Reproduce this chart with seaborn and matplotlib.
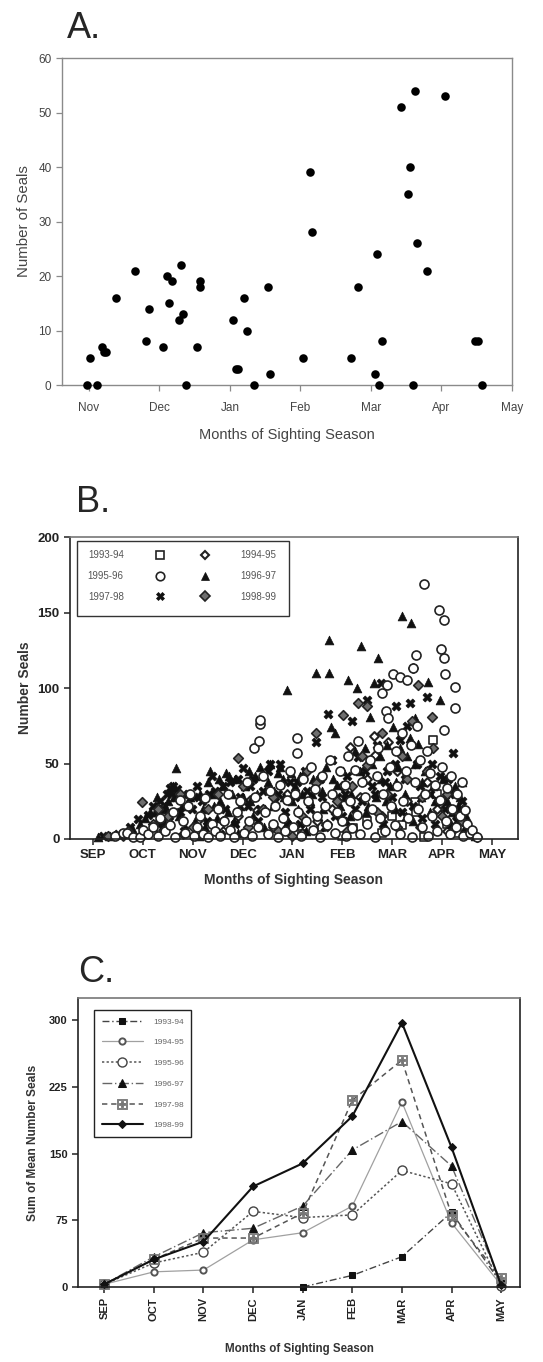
import numpy as np
import pandas as pd
import matplotlib
matplotlib.use("Agg")
import matplotlib.pyplot as plt
import seaborn as sns
from matplotlib.patches import Rectangle
from matplotlib.lines import Line2D

sns.set_style("ticks")
plt.rcParams['font.family'] = ['Liberation Sans', 'DejaVu Sans']

# ---------------- Panel A: single season, months after 1 Nov
a_months = ["Nov", "Dec", "Jan", "Feb", "Mar", "Apr", "May"]
a_x = [-0.02, 0.02, 0.12, 0.18, 0.22, 0.25, 0.38, 0.65, 0.81, 0.85,
       1.05, 1.11, 1.14, 1.18, 1.28, 1.31, 1.34, 1.38, 1.54, 1.57,
       1.57, 2.04, 2.08, 2.11, 2.20, 2.24, 2.34, 2.54, 2.57, 3.03,
       3.13, 3.16, 3.72, 3.82, 4.06, 4.09, 4.12, 4.16, 4.43, 4.52,
       4.56, 4.59, 4.62, 4.65, 4.79, 5.05, 5.47, 5.52, 5.58]
a_y = [0, 5, 0, 7, 6, 6, 16, 21, 8, 14,
       7, 20, 15, 19, 12, 22, 13, 0, 7, 19,
       18, 12, 3, 3, 16, 10, 0, 18, 2, 5,
       39, 28, 5, 18, 2, 24, 0, 8, 51, 35,
       40, 0, 54, 26, 21, 53, 8, 8, 0]

# ---------------- Panel B: all sightings, months after 1 Sep (month, seals)
b_months = ["SEP", "OCT", "NOV", "DEC", "JAN", "FEB", "MAR", "APR", "MAY"]
b_9394 = [(4.2, 3), (4.6, 8), (5.0, 2), (5.22, 7), (5.5, 12), (5.8, 4), (6.0, 15),
          (6.2, 9), (6.45, 24.7), (6.48, 18), (6.64, 1.5), (6.81, 65.6), (6.9, 30),
          (7.1, 10), (7.3, 4)]
b_9495 = [(0.6, 2), (1.0, 4), (1.4, 6), (1.8, 3), (2.2, 10), (2.6, 5), (2.9, 15),
          (3.14, 26), (3.28, 19), (3.6, 8), (3.9, 30), (4.2, 4), (4.5, 12), (4.8, 20),
          (5.0, 35), (5.16, 61), (5.35, 28), (5.5, 40), (5.63, 68), (5.65, 55.6),
          (5.8, 15), (5.92, 64), (6.1, 45), (6.3, 25), (6.42, 113), (6.55, 8),
          (6.7, 38), (6.9, 20), (7.1, 5), (7.3, 14)]
b_9596 = [(0.45, 2), (0.6, 4), (0.68, 3.7), (0.8, 1), (0.94, 1.5), (1.0, 6),
          (1.1, 3), (1.2, 8), (1.3, 2), (1.35, 14), (1.45, 5), (1.54, 9), (1.6, 18),
          (1.65, 1), (1.74, 26), (1.8, 12), (1.85, 4), (1.91, 22), (1.95, 30),
          (2.02, 2), (2.08, 8), (2.14, 15), (2.2, 3), (2.25, 27), (2.3, 1), (2.38, 10),
          (2.45, 5), (2.5, 20), (2.55, 2), (2.62, 12), (2.7, 30), (2.75, 6), (2.82, 1),
          (2.88, 18), (2.95, 25),
          (3.02, 4), (3.08, 38), (3.12, 12), (3.18, 2), (3.23, 60), (3.25, 28), (3.3, 8),
          (3.33, 65), (3.35, 76), (3.35, 79), (3.4, 42), (3.45, 18), (3.5, 3), (3.55, 32),
          (3.6, 10), (3.65, 22), (3.7, 1), (3.75, 36), (3.8, 14), (3.85, 5), (3.9, 26),
          (3.95, 45),
          (4.02, 8), (4.05, 30), (4.1, 57), (4.1, 67), (4.12, 18), (4.18, 2), (4.22, 40),
          (4.28, 12), (4.32, 25), (4.38, 48), (4.42, 6), (4.45, 33), (4.5, 15), (4.55, 1),
          (4.6, 42), (4.65, 22), (4.7, 9), (4.75, 52), (4.8, 30), (4.85, 4), (4.9, 18),
          (4.95, 45),
          (5.0, 12), (5.05, 36), (5.08, 2), (5.12, 55), (5.15, 25), (5.2, 7), (5.25, 46),
          (5.3, 16), (5.32, 65), (5.35, 3), (5.4, 38), (5.45, 28), (5.5, 10), (5.55, 52),
          (5.6, 20), (5.65, 1), (5.7, 42), (5.72, 60), (5.75, 14), (5.8, 97), (5.82, 30),
          (5.85, 5), (5.88, 85), (5.9, 102), (5.92, 80), (5.95, 48), (5.98, 22),
          (6.02, 109), (6.05, 9), (6.08, 58), (6.1, 35), (6.15, 107), (6.15, 3), (6.2, 70),
          (6.22, 25), (6.28, 45), (6.3, 105), (6.32, 14), (6.38, 62), (6.4, 1), (6.42, 113),
          (6.45, 38), (6.47, 122), (6.49, 75), (6.52, 20), (6.55, 52), (6.6, 8), (6.64, 169),
          (6.65, 30), (6.7, 58), (6.72, 2), (6.75, 44), (6.8, 15), (6.85, 36), (6.9, 5),
          (6.94, 152), (6.95, 26), (6.97, 126), (7.0, 48),
          (7.03, 145), (7.03, 120), (7.04, 72), (7.05, 109), (7.08, 12), (7.1, 34),
          (7.15, 3), (7.18, 42), (7.2, 20), (7.25, 101), (7.25, 87), (7.28, 8), (7.3, 30),
          (7.35, 15), (7.4, 38), (7.42, 2), (7.46, 19), (7.5, 10), (7.55, 4), (7.6, 6),
          (7.7, 1)]
b_9697 = [(0.1, 1), (0.35, 2), (0.6, 4), (0.8, 6), (0.95, 10), (1.05, 14), (1.15, 18),
          (1.2, 8), (1.28, 28), (1.35, 20), (1.42, 12), (1.5, 25), (1.55, 32), (1.6, 35),
          (1.66, 47), (1.7, 30), (1.78, 22), (1.85, 8), (1.95, 28),
          (1.25, 18), (1.45, 22), (1.62, 28), (1.72, 15),
          (2.05, 12), (2.12, 2), (2.2, 20), (2.3, 38), (2.35, 45), (2.4, 30), (2.48, 14),
          (2.55, 25), (2.6, 35), (2.66, 44), (2.7, 18), (2.78, 30), (2.85, 40), (2.9, 4),
          (2.95, 22), (2.15, 30), (2.25, 8), (2.42, 22), (2.52, 40), (2.72, 42), (2.82, 12),
          (3.05, 35), (3.12, 45), (3.2, 15), (3.28, 30), (3.35, 48), (3.42, 8), (3.5, 38),
          (3.54, 50), (3.6, 22), (3.7, 44), (3.75, 48), (3.82, 28), (3.89, 99), (3.92, 12),
          (3.98, 44), (3.0, 28), (3.15, 25), (3.25, 42), (3.45, 20), (3.62, 32), (3.8, 40),
          (4.05, 35), (4.12, 20), (4.2, 30), (4.28, 5), (4.35, 25), (4.42, 40), (4.48, 110),
          (4.52, 15), (4.6, 32), (4.68, 48), (4.73, 110), (4.74, 132), (4.78, 74),
          (4.85, 70), (4.9, 36), (4.95, 22), (4.0, 25), (4.15, 42), (4.25, 12), (4.4, 30),
          (4.62, 20), (4.82, 40),
          (5.02, 45), (5.08, 12), (5.12, 105), (5.18, 30), (5.25, 58), (5.3, 100),
          (5.38, 128), (5.42, 40), (5.48, 18), (5.55, 81), (5.6, 50), (5.63, 103),
          (5.68, 28), (5.72, 120), (5.78, 40), (5.85, 8), (5.9, 62), (5.95, 35),
          (5.05, 28), (5.15, 15), (5.35, 45), (5.45, 60), (5.52, 22), (5.75, 55), (5.88, 25),
          (6.01, 74), (6.05, 20), (6.12, 48), (6.19, 148), (6.25, 30), (6.3, 55),
          (6.36, 67), (6.37, 143), (6.42, 12), (6.46, 80), (6.52, 63), (6.58, 28),
          (6.65, 45), (6.71, 104), (6.75, 18), (6.82, 35), (6.9, 6), (6.95, 92),
          (6.08, 38), (6.15, 60), (6.28, 15), (6.45, 50), (6.6, 38), (6.85, 25),
          (7.02, 40), (7.1, 25), (7.18, 10), (7.25, 35), (7.32, 22), (7.4, 38),
          (7.48, 15), (7.55, 5), (7.65, 2), (7.05, 30), (7.2, 18), (7.35, 28), (7.45, 8)]
b_9798 = [(0.2, 2), (0.5, 3), (0.75, 8), (0.9, 13), (1.0, 5), (1.1, 16), (1.2, 22),
          (1.3, 10), (1.4, 20), (1.48, 30), (1.55, 34), (1.61, 35), (1.68, 33), (1.75, 18),
          (1.82, 5), (1.9, 30), (1.98, 20), (1.35, 25), (1.52, 15), (1.65, 28),
          (2.08, 35), (2.18, 25), (2.28, 12), (2.38, 42), (2.45, 32), (2.55, 3), (2.65, 20),
          (2.75, 38), (2.85, 10), (2.95, 28), (2.02, 28), (2.32, 30), (2.6, 35), (2.9, 40),
          (3.0, 47), (3.1, 22), (3.2, 40), (3.3, 12), (3.4, 32), (3.55, 50), (3.65, 25),
          (3.75, 50), (3.85, 18), (3.95, 38), (3.15, 35), (3.35, 20), (3.5, 45), (3.7, 30),
          (3.9, 10),
          (4.05, 28), (4.15, 10), (4.25, 45), (4.35, 20), (4.48, 64.5), (4.55, 40),
          (4.65, 8), (4.72, 82.5), (4.8, 52), (4.9, 28), (4.1, 38), (4.3, 32), (4.6, 28),
          (4.85, 15),
          (5.0, 15), (5.1, 42), (5.2, 78), (5.32, 54.5), (5.4, 25), (5.5, 92), (5.6, 35),
          (5.7, 62), (5.77, 103), (5.82, 10), (5.9, 45), (5.05, 30), (5.25, 20), (5.45, 45),
          (5.65, 30), (5.85, 38),
          (6.0, 28), (6.08, 88), (6.15, 65.6), (6.25, 40), (6.36, 90), (6.42, 22),
          (6.5, 50), (6.6, 14), (6.69, 94), (6.75, 30), (6.85, 10), (6.95, 42),
          (6.05, 50), (6.2, 18), (6.3, 75), (6.55, 35), (6.8, 50),
          (7.05, 20), (7.15, 30), (7.22, 57), (7.3, 12), (7.4, 25), (7.5, 8), (7.6, 3),
          (7.0, 25), (7.12, 40), (7.35, 20)]
b_9899 = [(0.3, 2), (0.7, 5), (0.98, 24.7), (1.2, 10), (1.5, 15), (1.75, 30), (2.0, 8),
          (2.3, 20), (2.6, 12), (2.9, 53.4), (3.1, 8), (3.4, 20), (3.7, 5), (4.0, 2),
          (4.2, 15), (4.48, 70), (4.48, 37), (4.7, 10), (4.9, 25), (5.02, 82), (5.1, 5),
          (5.2, 35), (5.32, 90), (5.5, 88), (5.5, 49), (5.7, 18), (5.9, 30), (6.1, 8),
          (6.3, 40), (6.52, 102), (6.6, 28), (6.8, 81), (6.82, 60), (7.0, 15), (7.2, 5),
          (7.4, 12), (7.7, 1), (1.3, 20), (2.5, 30), (3.0, 35), (3.6, 28), (4.3, 45),
          (5.4, 55), (5.8, 70), (6.2, 55), (6.4, 78), (6.7, 45), (7.1, 30)]

# ---------------- Panel C: sum of monthly means per season
c_months = ["SEP", "OCT", "NOV", "DEC", "JAN", "FEB", "MAR", "APR", "MAY"]
c_9394 = [np.nan, np.nan, np.nan, np.nan, 0, 13, 34, 84, 4]
c_9495 = [3, 17, 19, 53, 61, 91, 208, 72, 2]
c_9596 = [3, 27, 39, 85, 78, 81, 131, 116, 1]
c_9697 = [3, 34, 61, 66, 91, 154, 186, 136, 5]
c_9798 = [3, 31, 55, 55, 83, 210, 255, 81, 10]
c_9899 = [3, 31, 51, 113, 139, 192, 297, 157, 2]

seasons = ["1993-94", "1994-95", "1995-96", "1996-97", "1997-98", "1998-99"]

fig = plt.figure(figsize=(5.43, 13.62), dpi=100)

# ================= A =================
ax = fig.add_axes([0.1142, 0.7173, 0.8287, 0.2401])
sns.scatterplot(x=a_x, y=a_y, ax=ax, color="black", s=38, edgecolor="black",
                linewidth=0, clip_on=False, zorder=3)
ax.set_xlim(-0.38, 6.0)
ax.set_ylim(0, 60)
ax.set_xticks(range(len(a_months)))
ax.set_xticklabels(a_months)
ax.set_yticks(range(0, 61, 10))
for sp in ax.spines.values():
    sp.set_visible(True)
    sp.set_color("#8a8a8a")
    sp.set_linewidth(1.0)
ax.tick_params(colors="#8a8a8a", labelcolor="#444444", length=4, width=0.9,
               labelsize=8.5)
ax.tick_params(axis="x", pad=8)
ax.set_xlabel("Months of Sighting Season", fontsize=10.5, color="#444444", labelpad=10)
ax.set_ylabel("Number of Seals", fontsize=10.8, color="#444444", labelpad=5)
fig.text(0.123, 0.972, "A.", fontsize=26, va="baseline", ha="left")

# ================= B =================
rows = []
b_data = {"1993-94": b_9394, "1994-95": b_9495, "1995-96": b_9596,
          "1996-97": b_9697, "1997-98": b_9798, "1998-99": b_9899}
for season, pts in b_data.items():
    for m, v in pts:
        rows.append({"season": season, "month": m, "seals": v})
bdf = pd.DataFrame(rows)

b_style = {
    "1993-94": dict(marker="s", color="white", edgecolor="#222222", s=32, linewidth=1.2),
    "1994-95": dict(marker="D", color="white", edgecolor="#222222", s=20, linewidth=1.5),
    "1996-97": dict(marker="^", color="#111111", edgecolor="#111111", s=40, linewidth=0.5),
    "1997-98": dict(marker="X", color="#111111", edgecolor="#111111", s=42, linewidth=0.5),
    "1998-99": dict(marker="D", color="#6e6e6e", edgecolor="#222222", s=24, linewidth=1.2),
    "1995-96": dict(marker="o", color="white", edgecolor="#222222", s=42, linewidth=1.2),
}

ax = fig.add_axes([0.1289, 0.3840, 0.8250, 0.2217])
for season in b_style:
    sub = bdf[bdf.season == season]
    sns.scatterplot(data=sub, x="month", y="seals", ax=ax, clip_on=False,
                    **b_style[season])
ax.set_xlim(-0.46, 8.52)
ax.set_ylim(0, 200)
ax.set_xticks(range(len(b_months)))
ax.set_xticklabels(b_months)
ax.set_yticks([0, 50, 100, 150, 200])
for sp in ax.spines.values():
    sp.set_visible(True)
    sp.set_color("#222222")
    sp.set_linewidth(1.2)
ax.spines["top"].set_color("#777777")
ax.tick_params(colors="#222222", length=4, width=1.1, labelsize=9.5)
for lab in ax.get_xticklabels() + ax.get_yticklabels():
    lab.set_fontweight("bold")
ax.set_xlabel("Months of Sighting Season", fontsize=10, fontweight="bold",
              color="#333333", labelpad=8)
ax.set_ylabel("Number Seals", fontsize=10, fontweight="bold", color="#333333",
              labelpad=4)

ax.add_patch(Rectangle((0.0156, 0.738), 0.473, 0.249, transform=ax.transAxes,
                       fill=False, edgecolor="#333333", linewidth=1.0, zorder=5))


def mk(season):
    st = b_style[season]
    return Line2D([], [], linestyle="none", marker=st["marker"],
                  markerfacecolor=st["color"], markeredgecolor=st["edgecolor"],
                  markersize=np.sqrt(st["s"]) * 0.95, markeredgewidth=st["linewidth"])


left = ["1993-94", "1995-96", "1997-98"]
right = ["1994-95", "1996-97", "1998-99"]
leg1 = ax.legend([mk(s) for s in left], left, loc="upper left",
                 bbox_to_anchor=(0.02, 0.985), frameon=False, markerfirst=False,
                 fontsize=7, handlelength=1.0, handletextpad=3.2, labelspacing=1.1,
                 labelcolor="#555555")
ax.add_artist(leg1)
ax.legend([mk(s) for s in right], right, loc="upper left",
          bbox_to_anchor=(0.27, 0.985), frameon=False, markerfirst=True,
          fontsize=7, handlelength=1.0, handletextpad=3.2, labelspacing=1.1,
          labelcolor="#555555")
fig.text(0.140, 0.624, "B.", fontsize=26, va="baseline", ha="left")

# ================= C =================
c_vals = {"1993-94": c_9394, "1994-95": c_9495, "1995-96": c_9596,
          "1996-97": c_9697, "1997-98": c_9798, "1998-99": c_9899}
crow = []
for season, vals in c_vals.items():
    for i, v in enumerate(vals):
        crow.append({"season": season, "month": i, "value": v})
cdf = pd.DataFrame(crow).dropna()

c_style = {
    "1993-94": dict(color="#444444", linestyle=(0, (5, 2, 1, 2)), linewidth=1.0,
                    marker="s", markersize=4.5, markerfacecolor="#111111",
                    markeredgecolor="#111111"),
    "1994-95": dict(color="#a0a0a0", linestyle="-", linewidth=0.9,
                    marker="o", markersize=4.5, markerfacecolor="white",
                    markeredgecolor="#555555", markeredgewidth=1.4),
    "1995-96": dict(color="#555555", linestyle=(0, (1.5, 1.5)), linewidth=1.1,
                    marker="o", markersize=6.5, markerfacecolor="white",
                    markeredgecolor="#444444", markeredgewidth=1.0),
    "1996-97": dict(color="#666666", linestyle=(0, (7, 2, 1, 2)), linewidth=1.0,
                    marker="^", markersize=5.5, markerfacecolor="#111111",
                    markeredgecolor="#111111"),
    "1997-98": dict(color="#555555", linestyle=(0, (3.5, 2.5)), linewidth=1.1,
                    marker="$\\boxplus$", markersize=7, markerfacecolor="#777777",
                    markeredgecolor="#777777", markeredgewidth=0.6),
    "1998-99": dict(color="#111111", linestyle="-", linewidth=1.5,
                    marker="D", markersize=4.2, markerfacecolor="#111111",
                    markeredgecolor="#111111"),
}

ax = fig.add_axes([0.1436, 0.0551, 0.8140, 0.2122])
for season in seasons:
    sub = cdf[cdf.season == season]
    sns.lineplot(data=sub, x="month", y="value", ax=ax, errorbar=None,
                 label=season, clip_on=False, **c_style[season])
ax.set_xlim(-0.53, 8.38)
ax.set_ylim(0, 325)
ax.set_xticks(range(len(c_months)))
ax.set_xticklabels(c_months, rotation=90)
ax.set_yticks([0, 75, 150, 225, 300])
for sp in ax.spines.values():
    sp.set_visible(True)
    sp.set_color("#222222")
    sp.set_linewidth(1.2)
ax.spines["top"].set_color("#777777")
ax.tick_params(colors="#222222", length=4, width=1.1, labelsize=8)
for lab in ax.get_xticklabels() + ax.get_yticklabels():
    lab.set_fontweight("bold")
ax.set_xlabel("Months of Sighting Season", fontsize=8.3, fontweight="bold",
              color="#333333", labelpad=15)
ax.set_ylabel("Sum of Mean Number Seals", fontsize=8.6, fontweight="bold",
              color="#333333", labelpad=7)
leg = ax.legend(loc="upper left", bbox_to_anchor=(0.027, 0.972), fontsize=6,
                handlelength=5.0, handletextpad=1.2, labelspacing=1.55,
                borderpad=0.9, fancybox=False, edgecolor="#222222", framealpha=1,
                labelcolor="#666666")
leg.get_frame().set_linewidth(1.0)
fig.text(0.1436, 0.279, "C.", fontsize=26, va="baseline", ha="left")

fig.savefig("out.png", dpi=100)
